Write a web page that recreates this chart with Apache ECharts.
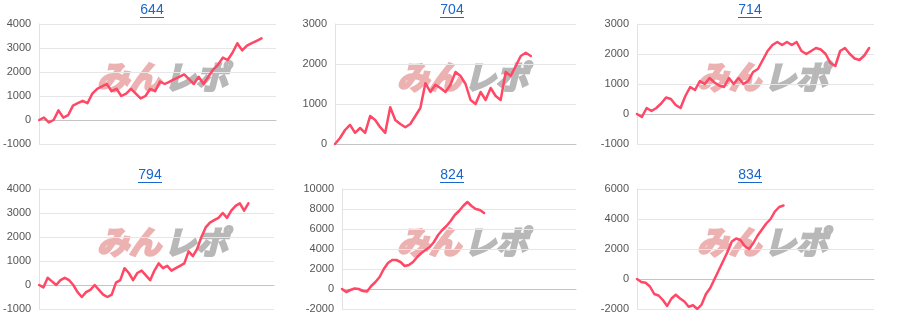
<!DOCTYPE html>
<html><head><meta charset="utf-8">
<script src="https://cdn.jsdelivr.net/npm/echarts@6/dist/echarts.min.js"></script>
<style>html,body{margin:0;padding:0;background:#fff}#c{width:900px;height:330px}</style>
</head><body><div id="c"></div>
<script>
const titles = ['644','704','714','794','824','834'];
const s644 = [0,100,-100,0,400,100,200,600,700,800,700,1100,1300,1400,1500,1200,1300,1000,1100,1300,1100,900,1000,1300,1200,1600,1500,1600,1700,1800,1900,1700,1500,1800,1500,1800,2100,2300,2600,2500,2800,3200,2900,3100,3200,3300,3400];
const s704 = [0,150,350,480,280,400,280,700,600,420,280,920,600,500,420,500,700,900,1520,1300,1480,1400,1300,1480,1800,1700,1500,1100,1000,1300,1100,1400,1200,1100,1800,1700,1950,2200,2280,2200];
const s714 = [0,-100,200,100,200,350,550,500,300,200,600,900,800,1100,1000,1200,1050,950,900,1200,1000,1200,1000,1100,1400,1500,1800,2100,2300,2400,2300,2400,2300,2400,2100,2000,2100,2200,2150,2000,1700,1600,2100,2200,2000,1850,1800,1950,2200];
const s794 = [0,-100,300,150,0,200,300,200,0,-300,-500,-300,-200,0,-200,-400,-500,-400,100,200,700,500,200,500,600,400,200,600,900,700,800,600,700,800,900,1400,1200,1500,2000,2400,2600,2700,2800,3000,2800,3100,3300,3400,3100,3400];
const s824 = [0,-300,-100,50,0,-200,-250,300,700,1200,2000,2600,2900,2900,2700,2300,2400,2700,3200,3600,3900,4200,4700,5400,5900,6300,6800,7400,7800,8300,8700,8300,8000,7900,7600];
const s834 = [0,-200,-250,-500,-1000,-1100,-1400,-1800,-1300,-1050,-1300,-1500,-1850,-1750,-2000,-1700,-1000,-600,0,600,1200,1800,2500,2700,2600,2200,2000,2400,2900,3300,3700,4000,4500,4800,4900];
const seriesData = [s644, s704, s714, s794, s824, s834];
const yMin = [-1000, 0, -1000, -1000, -2000, -2000];
const yMax = [4000, 3000, 3000, 4000, 10000, 6000];
const yStep = [1000, 1000, 1000, 1000, 2000, 2000];
const xMax = [49, 48, 49, 55, 56, 55];

// layout
const panelX = [0, 300, 600, 0, 300, 600];
const panelY = [0, 0, 0, 165, 165, 165];
const plotL = [39, 35, 37, 37, 42, 37];
const plotR = [276, 276, 274, 274, 276, 274];
const plotT = 24, plotH = 120;
const titleCX = [152, 152, 150, 150, 152, 150];

const grids = [], xAxes = [], yAxes = [], series = [], graphic = [];
for (let i = 0; i < 6; i++) {
  const px = panelX[i], py = panelY[i];
  grids.push({left: px + plotL[i], width: plotR[i] - plotL[i], top: py + plotT, height: plotH, containLabel: false});
  xAxes.push({type: 'value', gridIndex: i, min: 0, max: xMax[i],
    axisLine: {show: true, onZero: true, lineStyle: {color: '#c4c4c4', width: 1}},
    axisTick: {show: false}, axisLabel: {show: false}, splitLine: {show: false}});
  yAxes.push({type: 'value', gridIndex: i, min: yMin[i], max: yMax[i], interval: yStep[i],
    axisLine: {show: true, lineStyle: {color: '#e2e2e2'}},
    axisTick: {show: false},
    axisLabel: {color: '#555', fontSize: 11, fontFamily: 'Liberation Sans, Arial', margin: 8,
      formatter: v => String(v)},
    splitLine: {show: true, lineStyle: {color: '#e6e6e6', width: 1}}});
  series.push({type: 'line', xAxisIndex: i, yAxisIndex: i,
    data: seriesData[i].map((v, k) => [k, v]),
    showSymbol: false, symbol: 'none', silent: true, z: 5,
    lineStyle: {color: '#ff4766', width: 2.5, join: 'round', cap: 'round'}});
  graphic.push({type: 'text', silent: true, z: 10, x: px + titleCX[i], y: py + 10,
    style: {text: titles[i], fill: '#1a66cc', font: '14px "Liberation Sans", Arial', align: 'center', verticalAlign: 'middle'}});
  graphic.push({type: 'line', silent: true, z: 10,
    shape: {x1: px + titleCX[i] - 12, y1: py + 17.5, x2: px + titleCX[i] + 12, y2: py + 17.5},
    style: {stroke: '#1a66cc', lineWidth: 1}});
  graphic.push({type: 'text', silent: true, z: 0, x: px + 97, y: py + 77,
    style: {text: 'みん', fill: '#ecb2b2', stroke: '#ecb2b2', lineWidth: 2.5, font: 'italic bold 32px "Noto Sans CJK JP"', verticalAlign: 'middle', align: 'left'}});
  graphic.push({type: 'text', silent: true, z: 0, x: px + 164, y: py + 77,
    style: {text: 'レポ', fill: '#b8b8b8', stroke: '#b8b8b8', lineWidth: 2.5, font: 'italic bold 32px "Noto Sans CJK JP"', verticalAlign: 'middle', align: 'left'}});
}

const chart = echarts.init(document.getElementById('c'), null, {renderer: 'canvas'});
chart.setOption({
  animation: false,
  backgroundColor: '#fff',
  grid: grids,
  xAxis: xAxes,
  yAxis: yAxes,
  series: series,
  graphic: graphic
});
</script></body></html>
